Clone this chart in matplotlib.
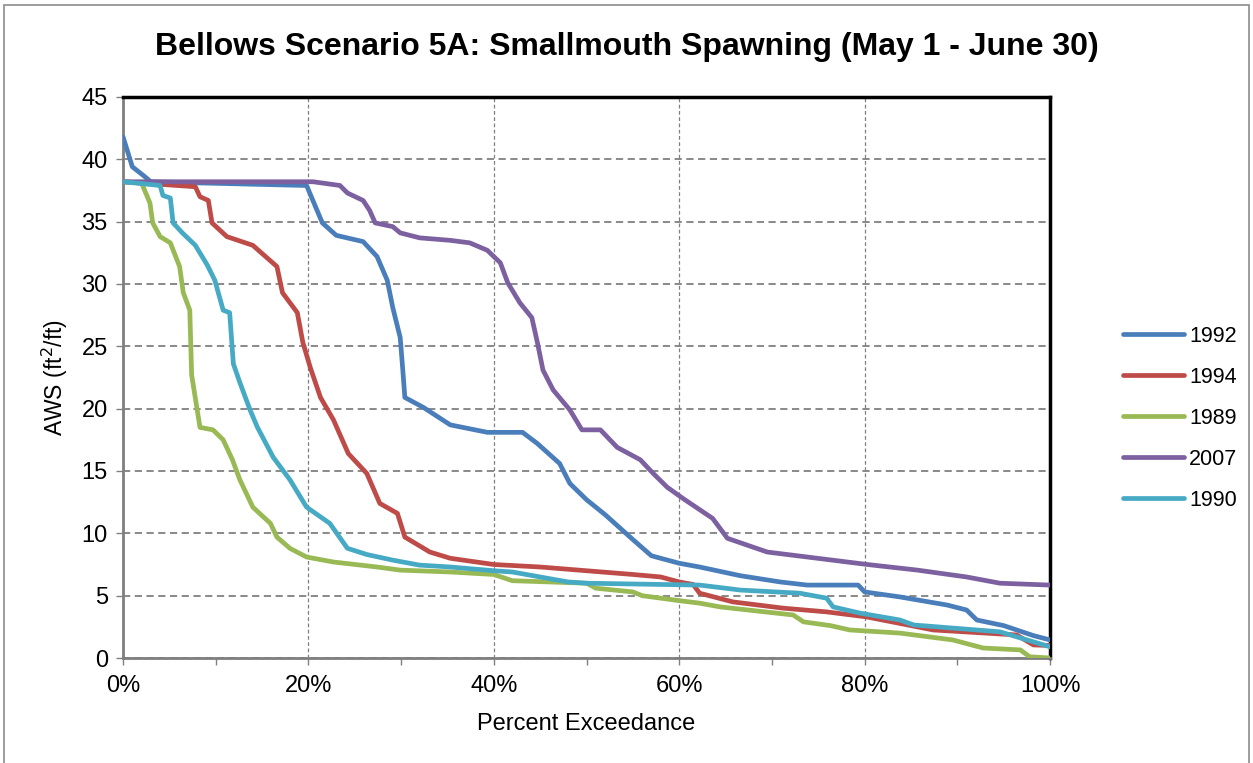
import matplotlib
matplotlib.use("Agg")
import matplotlib.pyplot as plt
from matplotlib.patches import Rectangle
from matplotlib.ticker import MultipleLocator, FuncFormatter

plt.rcParams['font.family'] = ['Liberation Sans', 'DejaVu Sans']

# percent exceedance (x) and AWS (y)
x_1992 = [0, 1.0, 2.2, 3.0, 19.8, 21.5, 23.0, 25.9, 27.4, 28.5, 29.1, 29.9, 30.2, 30.4, 32.4,
          35.3, 39.3, 43.1, 44.7, 47.1, 48.2, 50.0, 52.0, 55.0, 57.0, 60.0, 62.2, 66.6, 70.9,
          73.8, 79.3, 80.0, 83.8, 88.9, 91.0, 92.1, 95.0, 98.2, 100]
y_1992 = [41.8, 39.4, 38.7, 38.2, 37.9, 34.9, 33.9, 33.4, 32.2, 30.3, 28.1, 25.7, 22.9, 20.9, 20.1,
          18.7, 18.1, 18.1, 17.2, 15.6, 14.0, 12.7, 11.5, 9.5, 8.2, 7.6, 7.3, 6.6, 6.1,
          5.85, 5.85, 5.3, 4.9, 4.25, 3.85, 3.05, 2.6, 1.8, 1.45]

x_1994 = [0, 7.8, 8.3, 9.2, 9.6, 11.2, 14.0, 16.6, 17.2, 18.8, 19.4, 20.2, 21.3, 22.7, 24.3,
          26.3, 27.7, 29.6, 30.4, 33.1, 35.3, 40.0, 45.0, 50.0, 55.0, 58.0, 60.0, 61.5, 62.2,
          65.8, 71.2, 75.9, 80.2, 87.4, 96.4, 98.2, 100]
y_1994 = [38.2, 37.8, 37.0, 36.7, 34.9, 33.8, 33.1, 31.4, 29.3, 27.7, 25.3, 23.3, 20.9, 19.1, 16.4,
          14.8, 12.4, 11.6, 9.7, 8.5, 8.0, 7.5, 7.3, 7.0, 6.7, 6.5, 6.1, 5.9, 5.2,
          4.5, 4.0, 3.7, 3.3, 2.25, 1.85, 1.05, 1.0]

x_1989 = [0, 2.0, 2.9, 3.2, 4.0, 5.1, 6.1, 6.5, 7.2, 7.4, 8.3, 9.7, 10.8, 11.8, 12.6, 14.0,
          15.9, 16.6, 18.0, 19.8, 22.7, 27.4, 29.9, 35.3, 40.0, 42.0, 50.0, 51.0, 55.0, 56.0,
          60.0, 62.2, 64.4, 72.3, 73.4, 76.3, 78.4, 83.8, 89.5, 92.8, 96.8, 97.8, 100]
y_1989 = [38.2, 38.1, 36.5, 34.9, 33.8, 33.3, 31.4, 29.3, 27.9, 22.7, 18.5, 18.3, 17.5, 15.9, 14.3, 12.1,
          10.8, 9.7, 8.8, 8.1, 7.7, 7.3, 7.05, 6.9, 6.7, 6.2, 6.0, 5.6, 5.3, 5.0,
          4.6, 4.4, 4.1, 3.45, 2.9, 2.6, 2.25, 2.0, 1.45, 0.8, 0.65, 0.1, 0.0]

x_2007 = [0, 20.5, 23.4, 24.2, 25.9, 26.6, 27.2, 29.1, 29.9, 32.0, 35.3, 37.4, 39.3, 40.7, 41.5,
          42.8, 44.1, 44.7, 45.3, 46.4, 48.2, 49.5, 51.5, 53.3, 55.8, 57.2, 58.7, 60.4, 62.2,
          63.6, 65.2, 69.5, 74.9, 80.3, 85.7, 91.0, 94.6, 100]
y_2007 = [38.2, 38.2, 37.9, 37.3, 36.7, 35.9, 34.9, 34.6, 34.1, 33.7, 33.5, 33.3, 32.7, 31.7, 30.1,
          28.5, 27.3, 25.3, 23.1, 21.5, 19.9, 18.3, 18.3, 16.9, 15.9, 14.8, 13.7, 12.8, 11.9,
          11.2, 9.6, 8.5, 8.0, 7.5, 7.05, 6.5, 6.0, 5.85]

x_1990 = [0, 4.0, 4.3, 5.1, 5.4, 6.4, 7.8, 9.1, 9.9, 10.8, 11.5, 11.9, 12.6, 13.7, 14.5, 16.2,
          18.0, 19.8, 22.3, 24.2, 26.3, 29.1, 32.0, 35.3, 40.0, 42.0, 45.0, 48.0, 50.0, 58.0,
          62.2, 66.6, 73.0, 75.9, 76.6, 79.5, 83.8, 85.3, 94.6, 98.2, 100]
y_1990 = [38.2, 37.9, 37.1, 36.9, 34.9, 34.1, 33.1, 31.5, 30.3, 27.9, 27.7, 23.6, 22.1, 19.9, 18.5, 16.1,
          14.3, 12.1, 10.8, 8.8, 8.3, 7.85, 7.45, 7.3, 7.0, 6.9, 6.5, 6.1, 6.0, 5.9,
          5.85, 5.45, 5.2, 4.8, 4.1, 3.6, 3.05, 2.65, 2.1, 1.3, 0.9]

series = [
    ("1992", x_1992, y_1992, "#4A7EBB"),
    ("1994", x_1994, y_1994, "#BE4B48"),
    ("1989", x_1989, y_1989, "#98B954"),
    ("2007", x_2007, y_2007, "#7D60A0"),
    ("1990", x_1990, y_1990, "#46AAC5"),
]

fig = plt.figure(figsize=(12.53, 7.63), dpi=100)
ax = fig.add_axes([0.0982, 0.1376, 0.7398, 0.7353])

# figure border
fig.patches.append(Rectangle((0.003, -0.01), 0.994, 1.003, transform=fig.transFigure,
                             fill=False, edgecolor="#8c8c8c", linewidth=1.2))

for name, xs, ys, c in series:
    ax.plot(xs, ys, color=c, linewidth=3.4, label=name, solid_capstyle="round", zorder=3)

ax.set_xlim(0, 100)
ax.set_ylim(0, 45)
ax.xaxis.set_major_locator(MultipleLocator(20))
ax.xaxis.set_minor_locator(MultipleLocator(10))
ax.yaxis.set_major_locator(MultipleLocator(5))
ax.xaxis.set_major_formatter(FuncFormatter(lambda v, p: f"{v:.0f}%"))

ax.grid(axis="y", which="major", linestyle=(0, (4, 2.5)), color="#808080", linewidth=1.3)
ax.grid(axis="x", which="major", linestyle=(0, (3, 2)), color="#808080", linewidth=0.9)

ax.tick_params(axis="both", which="both", direction="out", length=5, width=1, color="#808080",
               labelsize=17, pad=6)
ax.tick_params(axis="x", which="major", pad=7)

for s in ["top", "right"]:
    ax.spines[s].set_color("black")
    ax.spines[s].set_linewidth(2.5)
for s in ["left", "bottom"]:
    ax.spines[s].set_color("#7f7f7f")
    ax.spines[s].set_linewidth(2)

ax.set_xlabel("Percent Exceedance", fontsize=17, labelpad=12)
ax.set_ylabel("AWS (ft$^2$/ft)", fontsize=16.5, labelpad=8)
fig.suptitle("Bellows Scenario 5A: Smallmouth Spawning (May 1 - June 30)",
             fontsize=23, fontweight="bold", x=0.5, y=0.958)

fig.legend(loc="center left", bbox_to_anchor=(0.881, 0.452), frameon=False, fontsize=15.5,
           handlelength=2.8, labelspacing=0.93, handletextpad=0.25)

fig.savefig("out.png", dpi=100)
